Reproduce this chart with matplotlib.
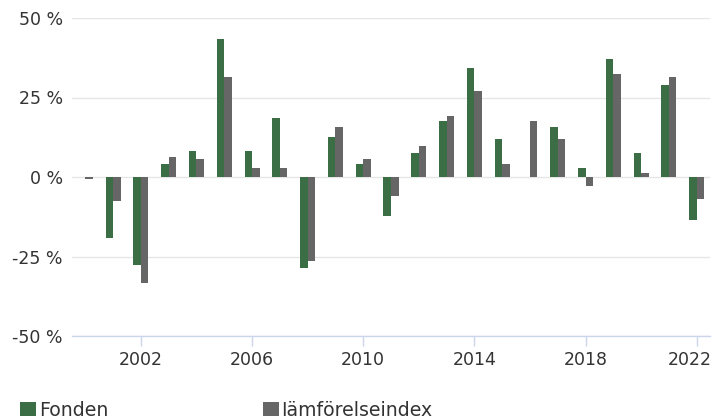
import numpy as np
import matplotlib
matplotlib.use("Agg")
import matplotlib.pyplot as plt
from matplotlib.patches import Patch
from matplotlib.transforms import ScaledTranslation

years = list(range(2000, 2023))
fonden = [np.nan, -19.2, -27.7, 4.2, 8.3, 43.3, 8.3, 18.4, -28.5, 12.7, 4.2, -12.4,
          7.4, 17.5, 34.2, 12.1, np.nan, 15.6, 2.9, 37.0, 7.4, 28.8, -13.4]
index = [-0.6, -7.5, -33.4, 6.4, 5.8, 31.3, 2.9, 2.9, -26.4, 15.6, 5.8, -5.9,
         9.6, 19.3, 26.9, 4.2, 17.5, 11.8, -2.7, 32.3, 1.4, 31.3, -6.8]
series_names = ["Fonden", "Jämförelseindex"]
series_colors = ["#3b6e45", "#666666"]
y_ticks = [-50, -25, 0, 25, 50]
y_labels = ["-50 %", "-25 %", "0 %", "25 %", "50 %"]
x_ticks = [2002, 2006, 2010, 2014, 2018, 2022]

plt.rcParams['font.family'] = ['DejaVu Sans']
fig = plt.figure(figsize=(7.12, 4.16), dpi=100)
ax = fig.add_axes([72/712, 1-336/416, (710-72)/712, (336-18)/416])

x = np.array(years, dtype=float)
w = 0.27
ax.bar(x - w/2, fonden, width=w, color=series_colors[0], label=series_names[0], zorder=3)
ax.bar(x + w/2, index, width=w, color=series_colors[1], label=series_names[1], zorder=3)

ax.set_xlim(1999.52, 2022.48)
ax.set_ylim(-50, 50)
ax.set_yticks(y_ticks)
ax.set_yticklabels(y_labels)
ax.set_xticks(x_ticks)
ax.set_xticklabels([str(t) for t in x_ticks])

ax.grid(axis='y', color='#e6e6e6', linewidth=1, zorder=0)
ax.grid(axis='x', visible=False)
for s in ['top', 'right', 'left']:
    ax.spines[s].set_visible(False)
ax.spines['bottom'].set_color('#ccd6eb')
ax.spines['bottom'].set_linewidth(1)
ax.spines['bottom'].set_zorder(4)

ax.tick_params(axis='y', length=0, pad=6.5, labelsize=12.5, labelcolor='#333333')
ax.tick_params(axis='x', length=7.5, width=1, color='#ccd6eb', pad=3,
               labelsize=12.5, labelcolor='#333333')

# keep last x label inside the figure (as in the reference)
last = ax.get_xticklabels()[-1]
last.set_transform(last.get_transform() + ScaledTranslation(-7/100, 0, fig.dpi_scale_trans))

handles = [Patch(facecolor=series_colors[0]), Patch(facecolor=series_colors[1])]
fig.legend(handles, series_names, loc='upper left', bbox_to_anchor=(20/712, 1-401/416),
           ncol=2, frameon=False, fontsize=13.6, labelcolor='#333333',
           handlelength=0.85, handleheight=0.85, handletextpad=0.15,
           columnspacing=8.2, borderaxespad=0, borderpad=0)

fig.savefig("out.png", dpi=100)
